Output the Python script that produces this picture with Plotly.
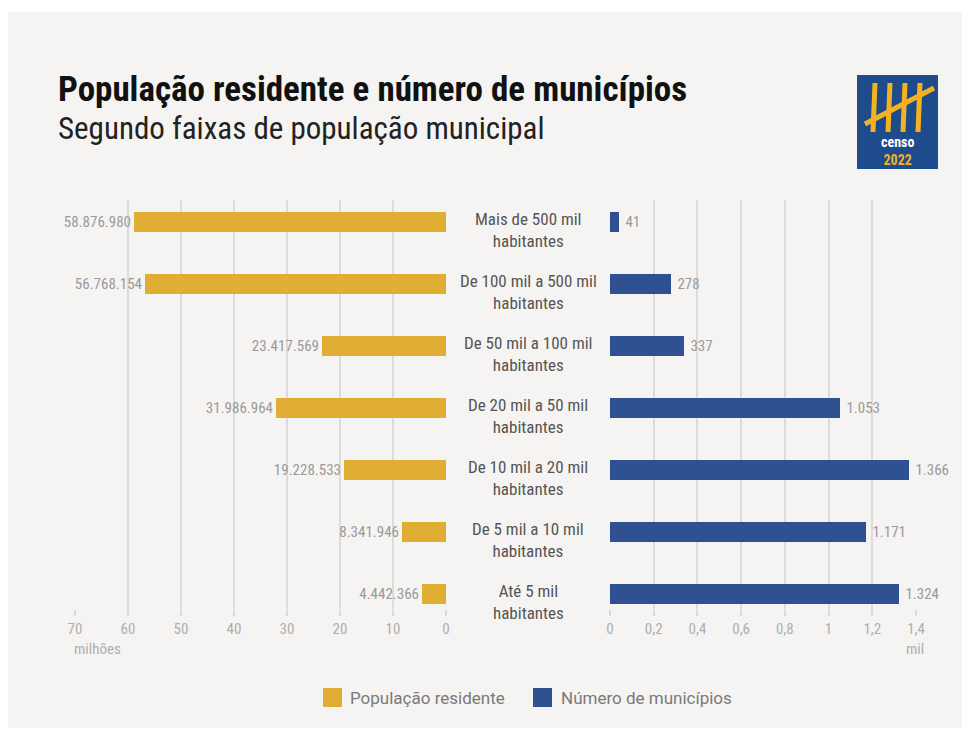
import plotly.graph_objects as go

W, H = 970, 730
OFF = 8  # page body margin

categories = [
    "Mais de 500 mil<br>habitantes",
    "De 100 mil a 500 mil<br>habitantes",
    "De 50 mil a 100 mil<br>habitantes",
    "De 20 mil a 50 mil<br>habitantes",
    "De 10 mil a 20 mil<br>habitantes",
    "De 5 mil a 10 mil<br>habitantes",
    "Até 5 mil<br>habitantes",
]
populacao = [58876980, 56768154, 23417569, 31986964, 19228533, 8341946, 4442366]
municipios = [41, 278, 337, 1053, 1366, 1171, 1324]

left_ticks = [70, 60, 50, 40, 30, 20, 10, 0]
right_ticks = [0, 0.2, 0.4, 0.6, 0.8, 1, 1.2, 1.4]

YELLOW = "#e0ae33"
BLUE = "#2f5191"
GRID = "#dcdbd9"
TICK_TXT = "#aeaeae"
BG = "#f5f4f2"
FONT = "Roboto Condensed, Liberation Sans Narrow, Roboto, Arial"


def px_x(p):
    return (p - OFF) / W


def px_y(p):
    return 1 - (p - OFF) / H


def dots(n):
    return f"{n:,}".replace(",", ".")


fig = go.Figure()

fig.add_trace(go.Bar(
    x=[v / 1e6 for v in populacao],
    y=categories,
    orientation="h",
    marker=dict(color=YELLOW, line=dict(width=0)),
    width=0.31,
    text=[dots(v) for v in populacao],
    textposition="outside",
    textfont=dict(color="#9a9a9a", size=15, family=FONT),
    constraintext="none",
    cliponaxis=False,
    xaxis="x", yaxis="y",
    name="População residente",
))
fig.add_trace(go.Bar(
    x=[v / 1000 for v in municipios],
    y=categories,
    orientation="h",
    marker=dict(color=BLUE, line=dict(width=0)),
    width=0.31,
    text=[" " + dots(v) for v in municipios],
    textposition="outside",
    textfont=dict(color="#9a9a9a", size=15, family=FONT),
    constraintext="none",
    cliponaxis=False,
    xaxis="x2", yaxis="y2",
    name="Número de municípios",
))

yr = [6.242, -0.355]
axis_common = dict(
    showgrid=True, gridcolor=GRID, gridwidth=1.5,
    zeroline=False, showline=False,
    ticks="outside", ticklen=6, tickcolor=GRID, tickwidth=1.5,
    tickfont=dict(color=TICK_TXT, size=15, family=FONT),
    fixedrange=True,
)

fig.update_layout(
    width=W, height=H,
    margin=dict(l=0, r=0, t=0, b=0, autoexpand=False),
    paper_bgcolor="white",
    plot_bgcolor="rgba(0,0,0,0)",
    separators=",.",
    showlegend=False,
    font=dict(family=FONT),
    bargap=0,
    xaxis=dict(domain=[px_x(75), px_x(446)], range=[70, 0],
               tickvals=left_ticks, **axis_common),
    xaxis2=dict(domain=[px_x(610), px_x(916)], range=[0, 1.4],
                tickvals=right_ticks, anchor="y2", **axis_common),
    yaxis=dict(domain=[px_y(609), px_y(200)], range=yr, visible=False,
               anchor="x"),
    yaxis2=dict(domain=[px_y(609), px_y(200)], range=yr, visible=False,
                anchor="x2"),
)

shapes = [
    dict(type="rect", xref="paper", yref="paper", layer="below",
         x0=px_x(8), x1=px_x(964), y0=px_y(728), y1=px_y(12),
         fillcolor=BG, line=dict(width=0)),
    # logo
    dict(type="rect", xref="paper", yref="paper",
         x0=px_x(857), x1=px_x(938), y0=px_y(169), y1=px_y(75),
         fillcolor="#1d4b8c", line=dict(width=0)),
]
for xs in [875, 890, 905, 920]:
    shapes.append(dict(type="line", xref="paper", yref="paper",
                       x0=px_x(xs), x1=px_x(xs - 2), y0=px_y(83), y1=px_y(132),
                       line=dict(color="#f4b120", width=5)))
shapes.append(dict(type="line", xref="paper", yref="paper",
                   x0=px_x(865), x1=px_x(934), y0=px_y(124), y1=px_y(88),
                   line=dict(color="#f4b120", width=5)))

# custom legend squares
for x0, col in [(323, YELLOW), (533, BLUE)]:
    shapes.append(dict(type="rect", xref="paper", yref="paper",
                       x0=px_x(x0), x1=px_x(x0 + 19), y0=px_y(707), y1=px_y(688),
                       fillcolor=col, line=dict(width=0)))
fig.update_layout(shapes=shapes)

ann = [
    dict(text="<b>População residente e número de municípios</b>",
         x=px_x(56), y=px_y(90), xanchor="left", yanchor="middle",
         font=dict(size=35, color="#111111", family=FONT)),
    dict(text="Segundo faixas de população municipal",
         x=px_x(56), y=px_y(128), xanchor="left", yanchor="middle",
         font=dict(size=31, color="#222222", family=FONT)),
    dict(text="<b>censo</b><br><span style='color:#f4b120'><b>2022</b></span>",
         x=px_x(897), y=px_y(151), xanchor="center", yanchor="middle",
         font=dict(size=14, color="white", family=FONT)),
    dict(text="milhões", x=px_x(97), y=px_y(649), xanchor="center", yanchor="middle",
         font=dict(size=15, color=TICK_TXT, family=FONT)),
    dict(text="mil", x=px_x(915), y=px_y(649), xanchor="center", yanchor="middle",
         font=dict(size=15, color=TICK_TXT, family=FONT)),
    dict(text="População residente", x=px_x(348), y=px_y(698), xanchor="left", yanchor="middle",
         font=dict(size=17, color="#7a7a7a", family="Roboto, Arial")),
    dict(text="Número de municípios", x=px_x(559), y=px_y(698), xanchor="left", yanchor="middle",
         font=dict(size=17, color="#7a7a7a", family="Roboto, Arial")),
]
for a in ann:
    a.update(xref="paper", yref="paper", showarrow=False)

for cat in categories:
    ann.append(dict(text=cat, x=px_x(528), xref="paper", y=cat, yref="y",
                    yshift=-8, showarrow=False, xanchor="center", yanchor="middle",
                    align="center",
                    font=dict(size=17, color="#555555", family=FONT)))

fig.update_layout(annotations=ann)

fig.write_html("out.html")
